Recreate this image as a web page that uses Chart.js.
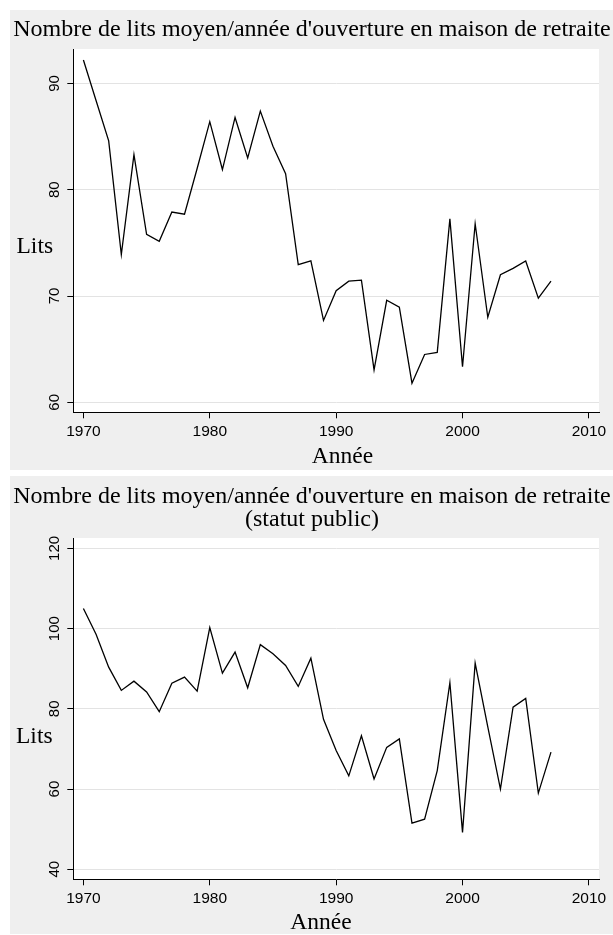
<!DOCTYPE html>
<html><head><meta charset="utf-8">
<script src="https://cdn.jsdelivr.net/npm/chart.js@4"></script>
<style>
html,body{margin:0;padding:0;background:#fff;}
.panel{position:absolute;left:10px;width:603px;}
#p1{top:10px;height:460px;}
#p2{top:476px;height:458px;}
</style></head><body>
<div class="panel" id="p1"><canvas id="c1"></canvas></div>
<div class="panel" id="p2"><canvas id="c2"></canvas></div>
<script>
const years = [1970,1971,1972,1973,1974,1975,1976,1977,1978,1979,1980,1981,1982,1983,1984,1985,1986,1987,1988,1989,1990,1991,1992,1993,1994,1995,1996,1997,1998,1999,2000,2001,2002,2003,2004,2005,2006,2007];
const avgBedsAll = [92.2,88.4,84.6,73.9,83.3,75.8,75.15,77.9,77.7,82.0,86.4,81.9,86.8,83.0,87.4,84.1,81.5,72.95,73.3,67.7,70.5,71.4,71.5,63.05,69.6,68.96,61.8,64.5,64.7,77.26,63.35,76.8,68.0,72.0,72.6,73.3,69.8,71.4];
const avgBedsPublic = [105,98.6,90.4,84.6,86.9,84.2,79.3,86.4,87.9,84.4,100.25,88.9,94.15,85.25,96,93.75,90.8,85.6,92.65,77.4,69.6,63.3,73.3,62.5,70.4,72.5,51.5,52.5,64.6,86.5,49.2,91.4,75.5,60,80.4,82.6,59,69.2];
const xTicks = [1970,1980,1990,2000,2010];
const yTicksAll = [60,70,80,90];
const yTicksPublic = [40,60,80,100,120];
const titleAll = ["Nombre de lits moyen/année d'ouverture en maison de retraite"];
const titlePublic = ["Nombre de lits moyen/année d'ouverture en maison de retraite","(statut public)"];
const yTitle = "Lits";
const xTitle = "Année";

const bgPlugin = {
  id:'bg',
  beforeDraw(chart){
    const c = chart.ctx, a = chart.chartArea;
    c.save();
    c.fillStyle = '#efefef';
    c.fillRect(0,0,chart.width,chart.height);
    c.fillStyle = '#ffffff';
    c.fillRect(a.left,a.top,a.right-a.left,a.bottom-a.top);
    c.restore();
  }
};

function makeChart(id, values, yTicks, yMin, yMax, L){
  const textPlugin = {
    id:'txt'+id,
    afterDraw(chart){
      const c = chart.ctx;
      c.save();
      c.fillStyle = '#000';
      c.textBaseline = 'alphabetic';
      c.font = L.titleSize + 'px "Liberation Serif"';
      c.textAlign = 'center';
      L.title.forEach((t,i)=>c.fillText(t, L.titleX, L.titleY[i]));
      c.font = L.axisSize + 'px "Liberation Serif"';
      c.textAlign = 'left';
      c.fillText(yTitle, L.litsX, L.litsY);
      c.textAlign = 'center';
      c.fillText(xTitle, L.anneeX, L.anneeY);
      const ys = chart.scales.y;
      c.font = '15px "Liberation Sans"';
      yTicks.forEach(v=>{
        const py = ys.getPixelForValue(v);
        c.save();
        c.translate(L.yLabX, py);
        c.rotate(-Math.PI/2);
        c.textAlign = 'center';
        c.fillText(String(v), 0, 0);
        c.restore();
      });
      c.restore();
    }
  };
  return new Chart(document.getElementById(id), {
    type:'line',
    data:{datasets:[{
      data: years.map((y,i)=>({x:y, y:values[i]})),
      borderColor:'#000', borderWidth:1.3, pointRadius:0, tension:0, fill:false
    }]},
    options:{
      responsive:true, maintainAspectRatio:false, animation:false, events:[],
      layout:{padding:{left:0, right:14, top:L.padTop, bottom:L.padBottom}},
      plugins:{legend:{display:false}, tooltip:{enabled:false}, title:{display:false}},
      scales:{
        x:{
          type:'linear', min:1969.2, max:2010.8,
          afterBuildTicks:s=>{ s.ticks = xTicks.map(v=>({value:v})); },
          afterFit:s=>{ s.height = 40; },
          grid:{drawOnChartArea:false, drawTicks:true, tickLength:6, tickColor:'#000', tickWidth:1},
          border:{color:'#000', width:1},
          ticks:{font:{family:'Liberation Sans', size:15.5}, color:'#000', padding:4, maxRotation:0, minRotation:0, autoSkip:false, callback:v=>String(v)}
        },
        y:{
          type:'linear', min:yMin, max:yMax,
          afterBuildTicks:s=>{ s.ticks = yTicks.map(v=>({value:v})); },
          afterFit:s=>{ s.width = 63.3; },
          grid:{color:'#e3e3e3', lineWidth:1, drawTicks:true, tickLength:6, tickColor:'#000', tickWidth:1},
          border:{color:'#000', width:1},
          ticks:{display:false}
        }
      }
    },
    plugins:[bgPlugin, textPlugin]
  });
}

makeChart('c1', avgBedsAll, yTicksAll, 59.06, 93.24, {
  padTop:39, padBottom:17.7,
  title:titleAll, titleSize:24, titleX:302, titleY:[26],
  axisSize:23.5, litsX:6.5, litsY:243.3, anneeX:332.5, anneeY:453,
  yLabX:49.3
});
makeChart('c2', avgBedsPublic, yTicksPublic, 37.5, 122.6, {
  padTop:62, padBottom:14.7,
  title:titlePublic, titleSize:24, titleX:302, titleY:[27,50],
  axisSize:23.5, litsX:6, litsY:266.7, anneeX:311, anneeY:453.3,
  yLabX:49.3
});
</script>
</body></html>
